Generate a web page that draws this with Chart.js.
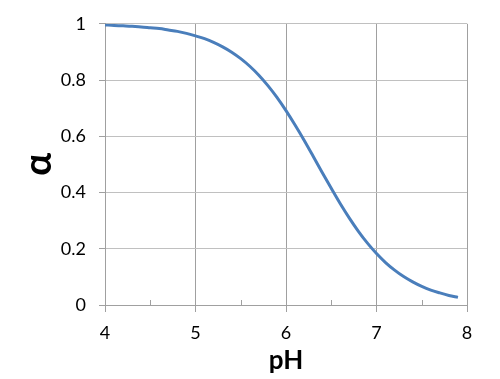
<!DOCTYPE html>
<html>
<head>
<meta charset="utf-8">
<script src="https://cdn.jsdelivr.net/npm/chart.js@4/dist/chart.umd.min.js"></script>
<style>
  body { margin: 0; background: #fff; }
  canvas { display: block; }
</style>
</head>
<body>
<canvas id="alphaChart" width="500" height="379"></canvas>
<script>
// values
const phValues = [4.0, 4.1, 4.2, 4.3, 4.4, 4.5, 4.6, 4.7, 4.8, 4.9,
                  5.0, 5.1, 5.2, 5.3, 5.4, 5.5, 5.6, 5.7, 5.8, 5.9,
                  6.0, 6.1, 6.2, 6.3, 6.4, 6.5, 6.6, 6.7, 6.8, 6.9,
                  7.0, 7.1, 7.2, 7.3, 7.4, 7.5, 7.6, 7.7, 7.8, 7.9];
const alphaValues = [0.996, 0.994, 0.993, 0.991, 0.989, 0.986, 0.983, 0.978, 0.973, 0.966,
                     0.957, 0.947, 0.934, 0.918, 0.899, 0.876, 0.849, 0.817, 0.780, 0.738,
                     0.691, 0.640, 0.586, 0.529, 0.471, 0.415, 0.360, 0.309, 0.262, 0.220,
                     0.183, 0.151, 0.124, 0.101, 0.082, 0.066, 0.053, 0.043, 0.034, 0.027];
const xTicks = [4, 5, 6, 7, 8];
const yTicks = [0, 0.2, 0.4, 0.6, 0.8, 1];
const minorTicks = [4.5, 5.5, 6.5, 7.5];

const points = phValues.map((p, i) => ({ x: p, y: alphaValues[i] }));

// small inward tick marks at the half units on the x axis
const minorTickPlugin = {
    id: 'minorTicks',
    afterDraw(chart) {
        const ctx = chart.ctx;
        const xs = chart.scales.x;
        const bottom = chart.chartArea.bottom;
        ctx.save();
        ctx.strokeStyle = '#a0a0a0';
        ctx.lineWidth = 1;
        minorTicks.forEach(v => {
            const px = Math.round(xs.getPixelForValue(v)) + 0.5;
            ctx.beginPath();
            ctx.moveTo(px, bottom - 5);
            ctx.lineTo(px, bottom);
            ctx.stroke();
        });
        ctx.restore();
    }
};

new Chart(document.getElementById('alphaChart'), {
    type: 'line',
    data: {
        datasets: [{
            data: points,
            borderColor: '#4a7ebb',
            borderWidth: 3,
            pointRadius: 0,
            cubicInterpolationMode: 'monotone',
            fill: false
        }]
    },
    options: {
        responsive: false,
        animation: false,
        layout: { padding: { left: 0, right: 33, top: 21, bottom: 0 } },
        plugins: {
            legend: { display: false },
            tooltip: { enabled: false }
        },
        scales: {
            x: {
                type: 'linear',
                min: 4,
                max: 8,
                afterBuildTicks: s => { s.ticks = xTicks.map(v => ({ value: v })); },
                afterFit: s => { s.height = 74; },
                grid: { color: '#a0a0a0', tickLength: 7, tickColor: '#a0a0a0' },
                border: { color: '#a0a0a0' },
                ticks: {
                    color: '#000',
                    padding: 10,
                    maxRotation: 0,
                    font: { family: 'Lato', size: 18 }
                },
                title: {
                    display: true,
                    text: 'pH',
                    color: '#000',
                    padding: { top: 0, bottom: 3 },
                    font: { family: 'Lato', size: 26, weight: 'bold' }
                }
            },
            y: {
                min: 0,
                max: 1,
                afterBuildTicks: s => { s.ticks = yTicks.map(v => ({ value: v })); },
                afterFit: s => { s.width = 105; },
                grid: { color: '#c0c0c0', tickLength: 6, tickColor: '#a0a0a0' },
                border: { color: '#a0a0a0' },
                ticks: {
                    color: '#000',
                    padding: 13,
                    font: { family: 'Lato', size: 18 },
                    callback: v => String(Number(v.toFixed(1)))
                },
                title: {
                    display: true,
                    text: 'α',
                    color: '#000',
                    padding: { top: 16, bottom: 0 },
                    font: { family: 'Lato', size: 38, weight: 'bold' }
                }
            }
        }
    },
    plugins: [minorTickPlugin]
});
</script>
</body>
</html>
